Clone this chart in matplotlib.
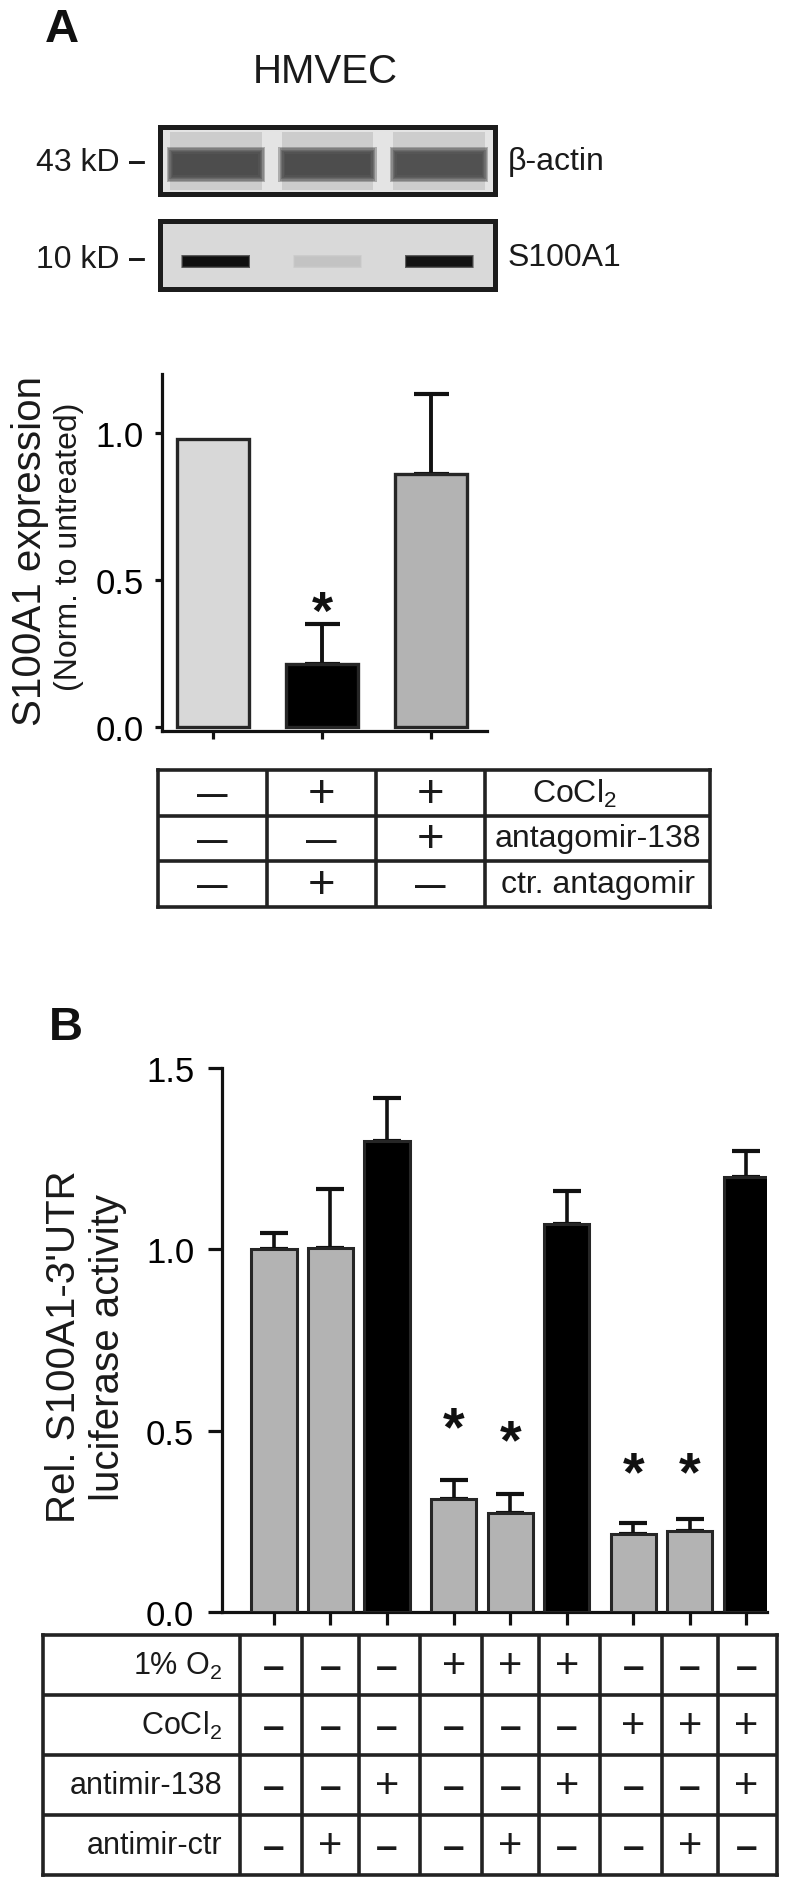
import matplotlib
matplotlib.use('Agg')
import matplotlib.pyplot as plt
import numpy as np
from matplotlib.colors import to_rgb

plt.rcParams['font.family'] = ['Liberation Sans', 'DejaVu Sans']
plt.rcParams['mathtext.fontset'] = 'custom'
plt.rcParams['mathtext.rm'] = 'Liberation Sans'
plt.rcParams['text.color'] = '#1a1a1a'

# ---- panel A data ----
blot_lanes = [0, 1, 2]
actin_signal = [1.0, 1.0, 0.97]
s100_signal = [1.0, 0.10, 0.98]

a_means = [0.98, 0.215, 0.862]
a_errs = [0.0, 0.136, 0.27]
a_colors = ['#d8d8d8', '#000000', '#b3b3b3']
a_star = {1: 0.426}

a_rows = ['CoCl$_\\mathrm{2}$', 'antagomir-138', 'ctr. antagomir']
a_signs = [['-', '+', '+'],
           ['-', '-', '+'],
           ['-', '+', '-']]

# ---- panel B data ----
b_means = [1.0, 1.005, 1.298, 0.311, 0.272, 1.071, 0.216, 0.222, 1.199]
b_errs = [0.046, 0.162, 0.12, 0.054, 0.053, 0.091, 0.03, 0.034, 0.071]
b_colors = ['#b3b3b3', '#b3b3b3', '#000000'] * 3
b_stars = {3: 0.537, 4: 0.499, 6: 0.413, 7: 0.413}

b_rows = ['1% O$_\\mathrm{2}$', 'CoCl$_\\mathrm{2}$', 'antimir-138', 'antimir-ctr']
b_signs = [['-', '-', '-', '+', '+', '+', '-', '-', '-'],
           ['-', '-', '-', '-', '-', '-', '+', '+', '+'],
           ['-', '-', '+', '-', '-', '+', '-', '-', '+'],
           ['-', '+', '-', '-', '+', '-', '-', '+', '-']]

W, H = 790, 1890
fig = plt.figure(figsize=(W / 100, H / 100), dpi=100)

EDGE = '#262626'


def box(x0, y0, x1, y1):
    return fig.add_axes([x0 / W, 1 - y1 / H, (x1 - x0) / W, (y1 - y0) / H])


def ftext(x, y, s, **kw):
    fig.text(x / W, 1 - y / H, s, **kw)


def blend(bg, fg, s):
    return tuple(np.array(to_rgb(bg)) * (1 - s) + np.array(to_rgb(fg)) * s)


def blot(ax, bg):
    ax.set_facecolor(bg)
    ax.set_xlim(-0.5, 2.5)
    ax.set_ylim(0, 1)
    ax.set_xticks([])
    ax.set_yticks([])
    for sp in ax.spines.values():
        sp.set_linewidth(3.6)
        sp.set_color('#1c1c1c')
        sp.set_zorder(10)


def soft_band(ax, lanes, signal, bg, fg, y0, h, w, spread, layers=6):
    # stacked translucent bars give a blurred band edge
    for k in range(layers):
        t = k / (layers - 1)
        ax.bar(lanes, h + spread * (1 - t), bottom=y0 - spread * (1 - t) / 2,
               width=w + spread * 0.6 * (1 - t),
               color=[blend(bg, fg, s) for s in signal], alpha=0.35, linewidth=0)


def star(ax, x, y, size):
    ax.annotate('*', xy=(x, y), xytext=(0, -0.48 * size), textcoords='offset points',
                ha='center', va='baseline', fontsize=size, fontweight='bold', color='#111111')


def sign_table(ax, pos, edges, rows, signs, label_x, label_ha, label_size,
               plus_size, minus_txt, minus_size, coco_x=None):
    nrow = len(rows)
    ax.set_ylim(nrow, 0)
    ax.set_xticks([])
    ax.set_yticks([])
    for sp in ax.spines.values():
        sp.set_linewidth(2.6)
        sp.set_color('#222222')
    ax.vlines(edges, 0, nrow, color='#222222', linewidth=2.6)
    ax.hlines(np.arange(1, nrow), *ax.get_xlim(), color='#222222', linewidth=2.6)
    for i, row in enumerate(signs):
        for j, s in enumerate(row):
            if s == '+':
                ax.text(pos[j], i + 0.52, '+', ha='center', va='center', fontsize=plus_size)
            else:
                ax.text(pos[j], i + 0.55, minus_txt, ha='center', va='center',
                        fontsize=minus_size, fontweight='bold')
    for i, lab in enumerate(rows):
        x = label_x
        ha = label_ha
        if coco_x is not None and i == 0:
            x, ha = coco_x, 'left'
        ax.text(x, i + 0.5, lab, ha=ha, va='center', fontsize=label_size)


# ================= Panel A =================
ftext(45, 30, 'A', fontsize=34, fontweight='bold', ha='left', va='center', color='#111111')
ftext(325, 72, 'HMVEC', fontsize=29, ha='center', va='center')

# beta-actin blot
ax1 = box(160, 128, 495, 195)
blot(ax1, '#e4e4e4')
ax1.bar(blot_lanes, 0.86, bottom=0.06, width=0.82,
        color=[blend('#e4e4e4', '#a0a0a0', 0.35 * s) for s in actin_signal], linewidth=0)
soft_band(ax1, blot_lanes, actin_signal, '#d2d2d2', '#444444', 0.28, 0.32, 0.76, 0.2)
ftext(120, 163, '43 kD', fontsize=23, ha='right', va='center')
ftext(137, 163, '\u2013', fontsize=23, ha='center', va='center', fontweight='bold')
ftext(508, 162, '\u03b2-actin', fontsize=23, ha='left', va='center')

# S100A1 blot
ax2 = box(160, 222, 495, 290)
blot(ax2, '#d9d9d9')
soft_band(ax2, blot_lanes, s100_signal, '#d9d9d9', '#000000', 0.34, 0.13, 0.58, 0.06)
ftext(120, 260, '10 kD', fontsize=23, ha='right', va='center')
ftext(137, 260, '\u2013', fontsize=23, ha='center', va='center', fontweight='bold')
ftext(508, 258, 'S100A1', fontsize=23, ha='left', va='center')

# bar chart A
axA = box(162, 375, 487, 732)
xa = np.arange(len(a_means))
axA.bar(xa, a_means, width=0.66, color=a_colors, edgecolor=EDGE, linewidth=2.4, zorder=3)
mask = np.array(a_errs) > 0
axA.errorbar(xa[mask], np.array(a_means)[mask],
             yerr=[np.zeros(mask.sum()), np.array(a_errs)[mask]],
             fmt='none', ecolor='#111111', elinewidth=2.8, capsize=12.6, capthick=3.0, zorder=2)
for k, y in a_star.items():
    star(axA, k, y, 39)
axA.set_xlim(-0.468, 2.514)
axA.set_ylim(-0.012, 1.2)
for s in ['top', 'right']:
    axA.spines[s].set_visible(False)
for s in ['left', 'bottom']:
    axA.spines[s].set_linewidth(2.3)
    axA.spines[s].set_color('#111111')
axA.set_yticks([0, 0.5, 1.0])
axA.set_yticklabels(['0.0', '0.5', '1.0'])
axA.set_xticks(xa)
axA.set_xticklabels([])
axA.tick_params(axis='y', labelsize=25, length=5, width=2.3, pad=8, color='#111111')
axA.tick_params(axis='x', length=5.5, width=2.3, color='#111111')

ftext(30, 551, 'S100A1 expression', fontsize=29, rotation=90, ha='center', va='center')
ftext(69, 547, '(Norm. to untreated)', fontsize=23, rotation=90, ha='center', va='center')

# table A
axTA = box(158, 771, 710, 908)
axTA.set_xlim(-0.5, 4.56)
sign_table(axTA, xa, [0.5, 1.5, 2.5], a_rows, a_signs, 3.53, 'center', 23,
           34, '\u2014', 22, coco_x=2.93)

# ================= Panel B =================
ftext(49, 1028, 'B', fontsize=34, fontweight='bold', ha='left', va='center', color='#111111')

gap = 0.18
b_pos = np.array([g * (3 + gap) + i for g in range(3) for i in range(3)])

axB = box(222, 1069, 767, 1613)
axB.bar(b_pos, b_means, width=0.8, color=b_colors, edgecolor=EDGE, linewidth=2.2, zorder=3)
axB.errorbar(b_pos, b_means, yerr=[np.zeros(len(b_errs)), b_errs], fmt='none',
             ecolor='#111111', elinewidth=2.6, capsize=10.4, capthick=3.0, zorder=2)
for k, y in b_stars.items():
    star(axB, b_pos[k], y, 40)
axB.set_xlim(-0.92, 8.726)
axB.set_ylim(0, 1.5)
for s in ['top', 'right']:
    axB.spines[s].set_visible(False)
for s in ['left', 'bottom']:
    axB.spines[s].set_linewidth(2.3)
    axB.spines[s].set_color('#111111')
axB.set_yticks([0, 0.5, 1.0, 1.5])
axB.set_yticklabels(['0.0', '0.5', '1.0', '1.5'])
axB.set_xticks(b_pos)
axB.set_xticklabels([])
axB.tick_params(axis='y', labelsize=25, length=10, width=2.3, pad=10, color='#111111')
axB.tick_params(axis='x', length=9.5, width=2.3, color='#111111')

ftext(64, 1347, "Rel. S100A1-3'UTR", fontsize=29, rotation=90, ha='center', va='center')
ftext(108, 1348, 'luciferase activity', fontsize=29, rotation=90, ha='center', va='center')

# table B
axTB = box(43, 1636, 777, 1876)
axTB.set_xlim(-4.09, 8.90)
b_edges = np.concatenate([[-0.60], (b_pos[1:] + b_pos[:-1]) / 2])
sign_table(axTB, b_pos, b_edges, b_rows, b_signs, -0.92, 'right', 22,
           30, '\u2013', 28)

fig.savefig('out.png', dpi=100)
